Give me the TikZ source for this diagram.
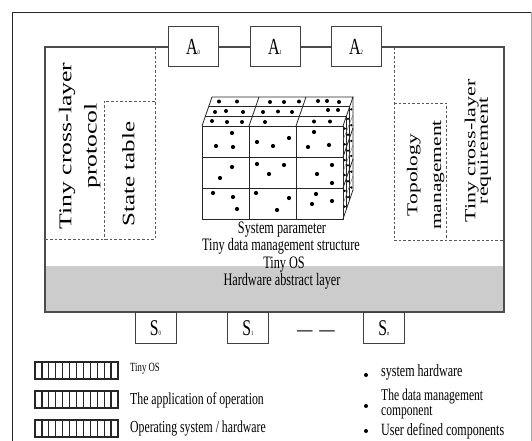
\documentclass[tikz,border=0pt]{standalone}
\usepackage{fontspec}
\setmainfont{Liberation Serif}
\usepackage{graphicx}
\newcommand\hsq[1]{\scalebox{0.7}[1]{#1}}
\newcommand\vsq[1]{\scalebox{1}[0.7]{#1}}
\newcommand\subsc[1]{\raisebox{-0.5pt}{\fontsize{6.5}{6.5}\selectfont #1}}
\begin{document}
\begin{tikzpicture}[x=1pt,y=-1pt,
  frameline/.style={line width=0.9pt, draw=black!85},
  boxline/.style={line width=1.1pt, draw=black!70},
  dashline/.style={line width=0.9pt, draw=black!65, dash pattern=on 2.6pt off 2pt},
  cubeline/.style={line width=0.8pt, draw=black!85},
  abox/.style={draw=black!75, line width=1pt, fill=white, minimum width=50pt, minimum height=40pt, inner sep=0pt, font=\fontsize{23}{23}\selectfont},
  sbox/.style={draw=black!75, line width=1pt, fill=white, minimum width=41pt, minimum height=31pt, inner sep=0pt, font=\fontsize{22.5}{22.5}\selectfont},
  legbar/.style={draw=black!85, line width=1.2pt},
  txt/.style={inner sep=0pt, font=\fontsize{17.5}{17.5}\selectfont},
  vtxt/.style={inner sep=0pt, rotate=90}
]
\useasboundingbox (0,0) rectangle (532,441);
\fill[white] (0,0) rectangle (532,441);
% outer frame
\draw[frameline] (12,441) -- (12,12) -- (531,12);
\draw[line width=0.6pt, draw=black!35] (531,12) -- (531,441);
% gray hardware band
\fill[black!20] (45,266) rectangle (504,312);
% A boxes
\node[abox] (A0) at (193,47) {\hsq{A\subsc{0}}};
\node[abox] (A1) at (275,47) {\hsq{A\subsc{1}}};
\node[abox] (A2) at (356,47) {\hsq{A\subsc{2}}};
% inner box through the A boxes
\draw[boxline] (A0.west) -- (45,47) -- (45,312) -- (504,312) -- (504,47) -- (A2.east);
\draw[boxline] (A0) -- (A1);
\draw[boxline] (A1) -- (A2);
% S boxes
\node[sbox] (S0) at (155.5,328) {\hsq{S\subsc{0}}};
\node[sbox] (S1) at (248,328) {\hsq{S\subsc{1}}};
\node[sbox] (Sn) at (384,328) {\hsq{S\subsc{n}}};
\node[inner sep=0pt, font=\fontsize{22}{22}\selectfont] (dots) at (316,334) {\hsq{—\hspace{0.45em}—}};
% dashed regions left
\draw[dashline] (155,47) -- (155,239) -- (45,239);
\draw[dashline] (155,101) -- (104,101) -- (104,239);
% dashed regions right
\draw[dashline] (394,47) -- (394,240) -- (504,240);
\draw[dashline] (394,103) -- (446,103) -- (446,240);
% rotated labels
\node[vtxt] (proto) at (79,146) {\vsq{\fontsize{25.7}{36}\selectfont\begin{tabular}{@{}c@{}}Tiny cross-layer\\protocol\end{tabular}}};
\node[vtxt] (state) at (128.5,174) {\vsq{\fontsize{25}{30}\selectfont State table}};
\node[vtxt] (topo) at (424.5,175) {\vsq{\fontsize{21.5}{34}\selectfont\begin{tabular}{@{}c@{}}Topology\\management\end{tabular}}};
\node[vtxt] (req) at (478,151) {\vsq{\fontsize{22}{16}\selectfont\begin{tabular}{@{}c@{}}Tiny cross-layer\\[-1.6pt]requirement\end{tabular}}};
% cube: front face
\fill[white] (202,126) -- (212,97) -- (353,97) -- (353,190) -- (343,219) -- (202,219) -- cycle;
\draw[cubeline] (202,126) rectangle (343,219);
\draw[cubeline] (249,126) -- (249,219) (296,126) -- (296,219) (202,157) -- (343,157) (202,188) -- (343,188);
% top face
\draw[cubeline] (202,126) -- (212,97) -- (353,97) -- (343,126);
\draw[cubeline] (205.33,116.33) -- (346.33,116.33) (208.67,106.67) -- (349.67,106.67);
\draw[cubeline] (249,126) -- (259,97) (296,126) -- (306,97);
% right face
\draw[cubeline] (353,97) -- (353,190) -- (343,219);
\draw[cubeline] (346.33,116.33) -- (346.33,209.33) (349.67,106.67) -- (349.67,199.67);
\draw[cubeline] (343,157) -- (353,128) (343,188) -- (353,159);
\draw[line width=0.4pt, draw=black!60] (343,140) -- (353,115) (343,172) -- (353,145) (343,204) -- (353,176);
% front dots
\foreach \p in {(216,146),(233,147),(232,133),(257,142),(273,146),(289,138),(314,132),(308,147),(329,145),
  (232,167),(220,178),(257,164),(269,174),(284,165),(332,165),(317,174),(332,183),
  (213,193),(233,197),(237,209),(256,193),(277,210),(289,198),(316,194),(312,204),(332,201)}
  \fill \p circle (2.1pt);
% top dots
\foreach \p in {(219,101.5),(237,101.5),(270,102),(284,102),(299,101.5),(318,101),(327,101),(339,102),
  (215,112),(226,111),(243,112),(263,112),(278,111.5),(292,112),(328,110),(338,110),
  (212,121),(227,122),(242,122),(265,122),(314,121.5),(330,121.5)}
  \fill \p circle (2pt);
% right face dots
\foreach \t in {0.17,0.5,0.83}
  \foreach \v in {0.08,0.25,0.42,0.58,0.75,0.92}
    \fill (343+10*\t,126-29*\t+93*\v) circle (1.3pt);
% centre texts
\node[txt] (syspar) at (282,230) {\hsq{System parameter}};
\node[txt] (tdms) at (281,246) {\hsq{Tiny data management structure}};
\node[txt] (tos) at (284,264.5) {\hsq{Tiny OS}};
\node[txt] (hal) at (282,281) {\hsq{Hardware abstract layer}};
% legend bars
\foreach \y in {362,391,420}{
  \draw[legbar] (35,\y) rectangle (118,\y+17);
  \foreach \i in {1,...,11}
    \draw[legbar] (35+\i*6.917,\y) -- (35+\i*6.917,\y+17);
}
\node[inner sep=0pt, anchor=west, font=\fontsize{12.5}{12.5}\selectfont] (l1) at (130,369) {\hsq{Tiny OS}};
\node[inner sep=0pt, anchor=west, font=\fontsize{16.8}{16.8}\selectfont] (l2) at (130,400) {\hsq{The application of operation}};
\node[inner sep=0pt, anchor=west, font=\fontsize{16.8}{16.8}\selectfont] (l3) at (130,428) {\hsq{Operating system / hardware}};
% right legend
\fill (366,375) circle (2pt);
\fill (366,406) circle (2pt);
\fill (366,431) circle (2pt);
\node[inner sep=0pt, anchor=west, font=\fontsize{17.2}{12}\selectfont] (r1) at (381,372) {\hsq{system hardware}};
\node[inner sep=0pt, anchor=west, font=\fontsize{16.5}{12}\selectfont] (r2) at (381,404.5) {\hsq{\begin{tabular}{@{}l@{}}The data management\\[2pt]component\end{tabular}}};
\node[inner sep=0pt, anchor=west, font=\fontsize{17.2}{12}\selectfont] (r3) at (381,431) {\hsq{User defined components}};
\end{tikzpicture}
\end{document}
